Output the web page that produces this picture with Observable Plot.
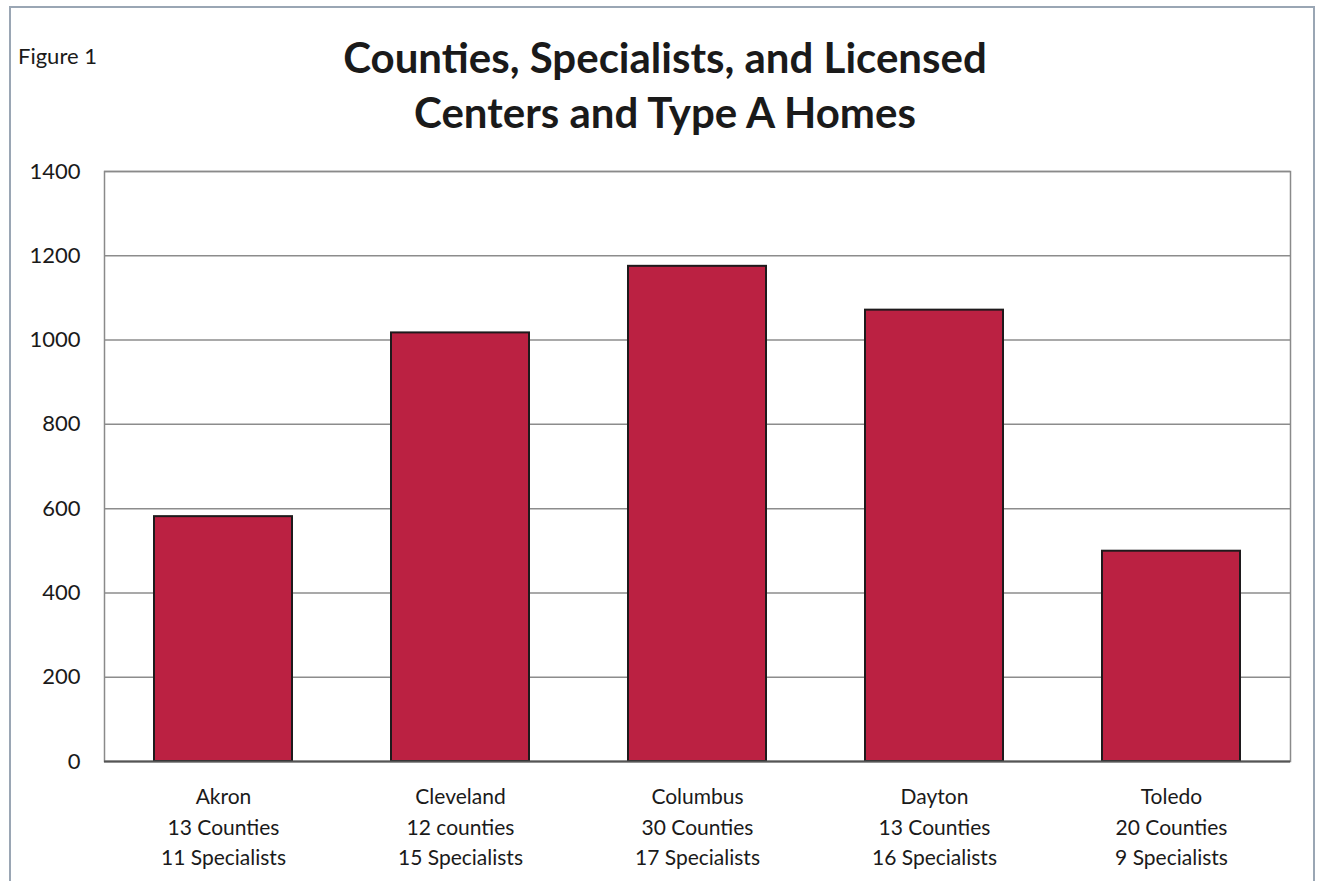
<!DOCTYPE html>
<html>
<head>
<meta charset="utf-8">
<script src="https://cdn.jsdelivr.net/npm/d3@7"></script>
<script src="https://cdn.jsdelivr.net/npm/@observablehq/plot@0.6"></script>
<style>
  html, body { margin: 0; padding: 0; background: #fff; }
  #wrap { position: relative; width: 1324px; height: 881px; overflow: hidden; font-family: Lato, "Open Sans", sans-serif; color: #1a1a1a; }
  #border { position: absolute; left: 9px; top: 6px; width: 1306px; height: 900px; border: 2px solid #9aa6b4; box-sizing: border-box; }
  #fig { position: absolute; left: 18px; top: 42px; font-size: 22px; color: #1a1a1a; }
  #title { position: absolute; left: 0; width: 1324px; top: 30px; text-align: center; font-weight: 700; font-size: 42px; line-height: 55px; color: #1a1a1a; padding-left: 6px; box-sizing: border-box; }
  #chart { position: absolute; left: 0; top: 131px; }
</style>
</head>
<body>
<div id="wrap">
  <div id="border"></div>
  <div id="fig">Figure 1</div>
  <div id="title">Counties, Specialists, and Licensed<br>Centers and Type A Homes</div>
  <div id="chart"></div>
</div>
<script>
const cities = ["Akron", "Cleveland", "Columbus", "Dayton", "Toledo"];
const counties = ["13 Counties", "12 counties", "30 Counties", "13 Counties", "20 Counties"];
const specialists = ["11 Specialists", "15 Specialists", "17 Specialists", "16 Specialists", "9 Specialists"];
const values = [581, 1017, 1175, 1071, 499];
const yTicks = [0, 200, 400, 600, 800, 1000, 1200, 1400];

const data = cities.map((c, i) => ({city: c, value: values[i]}));
const labelOf = Object.fromEntries(cities.map((c, i) => [c, `${c}\n${counties[i]}\n${specialists[i]}`]));

const chart = Plot.plot({
  width: 1324,
  height: 750,
  marginTop: 40,
  marginBottom: 120,
  marginLeft: 104,
  marginRight: 34,
  style: {fontFamily: "Lato, 'Open Sans', sans-serif", color: "#1a1a1a", background: "transparent"},
  x: {domain: cities, paddingInner: 0.416, paddingOuter: 0.208, align: 0.5},
  y: {domain: [0, 1400]},
  marks: [
    Plot.ruleY(yTicks, {stroke: "#8c8c8c", strokeWidth: 1.5}),
    Plot.frame({stroke: "#8a8a8a", strokeWidth: 1.5}),
    Plot.barY(data, {x: "city", y: "value", fill: "#bb2142", stroke: "#1e1a1c", strokeWidth: 2}),
    Plot.ruleY([0], {stroke: "#555", strokeWidth: 2}),
    Plot.axisY({ticks: yTicks, tickSize: 0, tickPadding: 24, fontSize: 22, label: null, tickFormat: d => String(d)}),
    Plot.axisX({tickSize: 0, tickPadding: 21, fontSize: 21, lineHeight: 1.45, label: null, tickFormat: d => labelOf[d]})
  ]
});
document.getElementById("chart").appendChild(chart);
</script>
</body>
</html>
